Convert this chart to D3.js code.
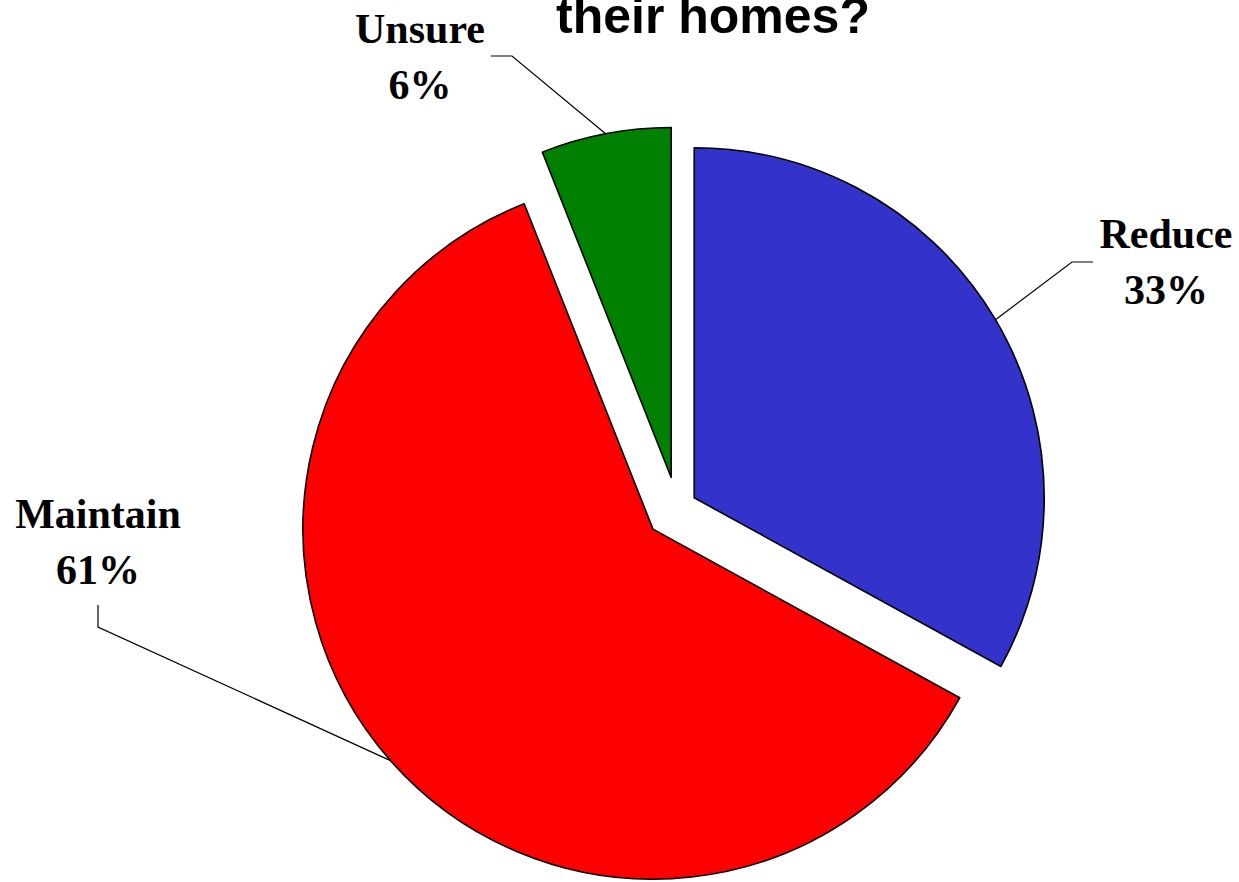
<!DOCTYPE html>
<html>
<head>
<meta charset="utf-8">
<script src="https://cdn.jsdelivr.net/npm/d3@7"></script>
<style>
  html, body { margin: 0; padding: 0; background: #fff; }
  svg { display: block; }
</style>
</head>
<body>
<svg id="chart" width="1239" height="882"></svg>
<script>
// ---- data ----
const categories = ["Reduce", "Maintain", "Unsure"];
const values = [33, 61, 6];
const percentLabels = ["33%", "61%", "6%"];
const colors = ["#3333CC", "#FF0000", "#008000"];
const titleText = "their homes?";

// ---- layout (styles/positions) ----
const W = 1239, H = 882;
const cx = 677, cy = 508, R = 350;
const explode = [20, 32, 31];
// label anchors (center x, baseline of first line) and leader elbows
const labelPos = [
  { x: 1166, y: 248, elbow: [[1072, 262], [1093, 262]] },
  { x: 98,  y: 528, elbow: [[98, 627], [98, 605]] },
  { x: 420, y: 43,  elbow: [[512, 56], [491, 56]] }
];

const svg = d3.select("#chart");

svg.append("text")
  .attr("x", 713).attr("y", 33)
  .attr("text-anchor", "middle")
  .attr("font-family", "'Liberation Sans', Arial, sans-serif")
  .attr("font-weight", "bold")
  .attr("font-size", 50)
  .text(titleText);

const pie = d3.pie().sort(null).value(d => d).startAngle(0).endAngle(2 * Math.PI);
const arcs = pie(values);
const arcGen = d3.arc().innerRadius(0).outerRadius(R);

const g = svg.append("g").attr("transform", `translate(${cx},${cy})`);

arcs.forEach((a, i) => {
  const mid = (a.startAngle + a.endAngle) / 2;
  const dx = Math.sin(mid) * explode[i];
  const dy = -Math.cos(mid) * explode[i];
  a.dx = dx; a.dy = dy; a.mid = mid;
});

g.selectAll("path.slice")
  .data(arcs)
  .join("path")
  .attr("class", "slice")
  .attr("transform", d => `translate(${d.dx},${d.dy})`)
  .attr("d", arcGen)
  .attr("fill", (d, i) => colors[i])
  .attr("stroke", "#000")
  .attr("stroke-width", 1.6)
  .attr("stroke-linejoin", "round");

// leader lines
arcs.forEach((a, i) => {
  const sx = cx + a.dx + Math.sin(a.mid) * R;
  const sy = cy + a.dy - Math.cos(a.mid) * R;
  const pts = [[sx, sy]].concat(labelPos[i].elbow);
  svg.append("path")
    .attr("d", d3.line()(pts))
    .attr("fill", "none")
    .attr("stroke", "#000")
    .attr("stroke-width", 1.2);
});

// labels
arcs.forEach((a, i) => {
  const t = svg.append("text")
    .attr("text-anchor", "middle")
    .attr("font-family", "'Liberation Serif', 'Times New Roman', serif")
    .attr("font-weight", "bold")
    .attr("font-size", 42);
  t.append("tspan").attr("x", labelPos[i].x).attr("y", labelPos[i].y).text(categories[i]);
  t.append("tspan").attr("x", labelPos[i].x).attr("y", labelPos[i].y + 56).text(percentLabels[i]);
});
</script>
</body>
</html>
